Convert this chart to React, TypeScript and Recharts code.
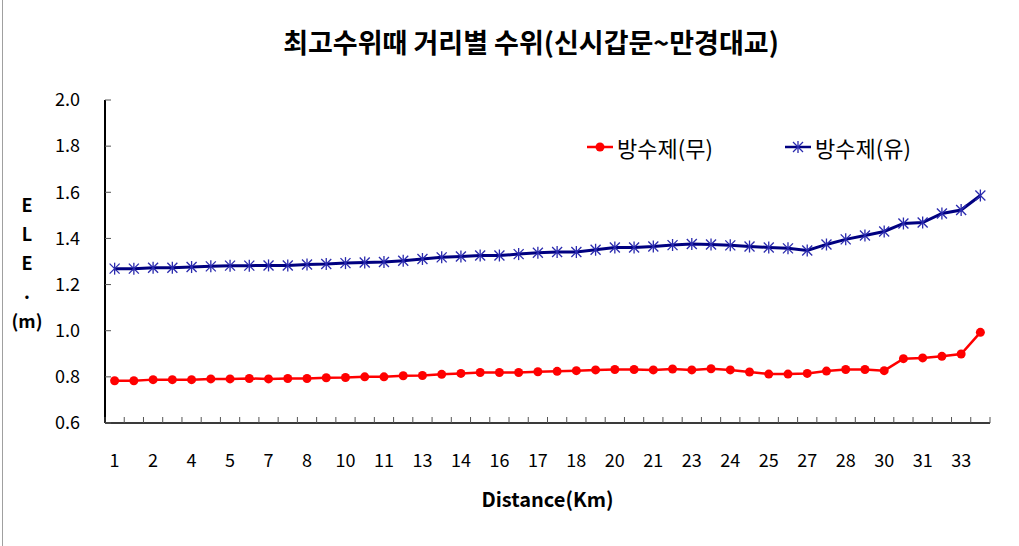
import React from 'react';
import { LineChart, Line, XAxis, YAxis, Legend, Label } from 'recharts';

const distanceLabels = ['1', '2', '4', '5', '7', '8', '10', '11', '13', '14', '16', '17', '18', '20', '21', '23', '24', '25', '27', '28', '30', '31', '33'];

const seriesNames = ['방수제(무)', '방수제(유)'];

const noWaterproof = [
  0.783, 0.783, 0.788, 0.788, 0.788, 0.791, 0.791, 0.793, 0.791, 0.793,
  0.793, 0.796, 0.797, 0.800, 0.800, 0.805, 0.806, 0.811, 0.815, 0.819,
  0.819, 0.819, 0.822, 0.824, 0.827, 0.830, 0.832, 0.832, 0.830, 0.834,
  0.830, 0.835, 0.830, 0.821, 0.812, 0.812, 0.815, 0.825, 0.832, 0.832,
  0.827, 0.879, 0.882, 0.889, 0.899, 0.993,
];

const withWaterproof = [
  1.269, 1.269, 1.273, 1.273, 1.276, 1.279, 1.282, 1.282, 1.283, 1.283,
  1.287, 1.289, 1.293, 1.296, 1.298, 1.303, 1.311, 1.318, 1.322, 1.326,
  1.326, 1.332, 1.338, 1.341, 1.341, 1.351, 1.361, 1.361, 1.365, 1.371,
  1.376, 1.374, 1.370, 1.365, 1.361, 1.357, 1.348, 1.374, 1.396, 1.413,
  1.430, 1.465, 1.469, 1.508, 1.523, 1.586,
];

const yTicks = [0.6, 0.8, 1.0, 1.2, 1.4, 1.6, 1.8, 2.0];

const title = '최고수위때 거리별 수위(신시갑문~만경대교)';
const xTitle = 'Distance(Km)';
const yTitleLines = ['E', 'L', 'E', '.', '(m)'];

const data = noWaterproof.map((v, i) => ({
  idx: i,
  label: i % 2 === 0 ? distanceLabels[i / 2] : '',
  a: v,
  b: withWaterproof[i],
}));

const FONT = '"Noto Sans CJK KR", "Noto Sans", sans-serif';
const RED = '#FF0000';
const NAVY = '#000080';
const STAR = '#2a2aae';

const PLOT_W = 885;
const HALF_BAND = PLOT_W / data.length / 2;

const XTick = (props: any) => {
  const { x, y, index } = props;
  const half = HALF_BAND;
  const lbl = data[index] ? data[index].label : '';
  const last = index === data.length - 1;
  return (
    <g>
      <line x1={x - half} x2={x - half} y1={y} y2={y - 6} stroke="#555" strokeWidth={1} />
      {last && <line x1={x + half} x2={x + half} y1={y} y2={y - 6} stroke="#555" strokeWidth={1} />}
      {lbl !== '' && (
        <text x={x} y={y + 44} textAnchor="middle" fontSize={18} fontFamily={FONT} fill="#000">{lbl}</text>
      )}
    </g>
  );
};

const YTick = (props: any) => {
  const { x, y, payload } = props;
  return (
    <g>
      <line x1={x} x2={x + 6} y1={y} y2={y} stroke="#555" strokeWidth={1} />
      <text x={x - 25} y={y} dy="0.35em" textAnchor="end" fontSize={18} fontFamily={FONT} fill="#000">
        {Number(payload.value).toFixed(1)}
      </text>
    </g>
  );
};

const StarDot = (props: any) => {
  const { cx, cy, stroke } = props;
  if (cx == null || cy == null) return null;
  const s = 5;
  return (
    <g stroke={stroke || STAR} strokeWidth={1.3}>
      <line x1={cx - s} y1={cy - s} x2={cx + s} y2={cy + s} />
      <line x1={cx - s} y1={cy + s} x2={cx + s} y2={cy - s} />
      <line x1={cx} y1={cy - s - 1} x2={cx} y2={cy + s + 1} />
    </g>
  );
};

const YLabel = (props: any) => {
  const vb = props.viewBox || { x: 55, y: 100 };
  const cx = vb.x - 28;
  return (
    <text textAnchor="middle" fontSize={18} fontWeight="bold" fontFamily={FONT} fill="#000">
      {yTitleLines.map((t, i) => (
        <tspan key={i} x={cx} y={vb.y + 112 + i * 29}>{t}</tspan>
      ))}
    </text>
  );
};

const XLabel = (props: any) => {
  const vb = props.viewBox || { x: 105, y: 423, width: 885 };
  return (
    <text x={vb.x + vb.width / 2} y={vb.y + 84} textAnchor="middle" fontSize={20} fontWeight="bold" fontFamily={FONT} fill="#000">
      {xTitle}
    </text>
  );
};

const LegendContent = () => (
  <div style={{ position: 'relative', width: 380, height: 30, fontFamily: FONT, fontSize: 22, color: '#000' }}>
    <div style={{ position: 'absolute', left: 0, top: 0, display: 'flex', alignItems: 'center', height: 30 }}>
      <svg width={30} height={30}>
        <line x1={2} x2={28} y1={15} y2={15} stroke={RED} strokeWidth={2.5} />
        <circle cx={15} cy={15} r={4.5} fill={RED} />
      </svg>
      <span style={{ marginLeft: 2, whiteSpace: 'nowrap' }}>{seriesNames[0]}</span>
    </div>
    <div style={{ position: 'absolute', left: 198, top: 0, display: 'flex', alignItems: 'center', height: 30 }}>
      <svg width={30} height={30}>
        <line x1={2} x2={28} y1={15} y2={15} stroke={NAVY} strokeWidth={2.5} />
        <StarDot cx={15} cy={15} stroke={STAR} />
      </svg>
      <span style={{ marginLeft: 2, whiteSpace: 'nowrap' }}>{seriesNames[1]}</span>
    </div>
  </div>
);

export default function App() {
  return (
    <div style={{ position: 'absolute', left: 0, top: 0, width: 1019, height: 546, background: '#fff', overflow: 'hidden' }}>
      <div style={{ position: 'absolute', left: 2, top: 0, width: 1, height: 546, background: '#a0a0a0' }} />
      <div
        style={{
          position: 'absolute', left: 0, width: 1062, top: 23, textAlign: 'center',
          fontFamily: FONT, fontSize: 27, fontWeight: 'bold', color: '#000', lineHeight: '38px', whiteSpace: 'nowrap',
        }}
      >
        {title}
      </div>
      <LineChart
        width={1019}
        height={546}
        data={data}
        margin={{ top: 100, right: 29, bottom: 83, left: 55 }}
        style={{ position: 'absolute', left: 0, top: 0 }}
      >
        <XAxis
          dataKey="idx"
          type="category"
          interval={0}
          height={40}
          padding={{ left: HALF_BAND, right: HALF_BAND }}
          tickSize={0}
          tickMargin={0}
          tickLine={false}
          tick={<XTick />}
          axisLine={{ stroke: '#3a3a3a', strokeWidth: 2 }}
        >
          <Label content={<XLabel />} />
        </XAxis>
        <XAxis
          xAxisId="top"
          dataKey="idx"
          orientation="top"
          height={0}
          tick={false}
          tickLine={false}
          axisLine={{ stroke: '#000', strokeWidth: 2 }}
        />
        <YAxis
          domain={[0.6, 2.0]}
          ticks={yTicks}
          width={50}
          tickSize={0}
          tickMargin={0}
          tickLine={false}
          tick={<YTick />}
          axisLine={{ stroke: '#000', strokeWidth: 2 }}
          allowDataOverflow
        >
          <Label content={<YLabel />} />
        </YAxis>
        <YAxis
          yAxisId="right"
          orientation="right"
          domain={[0.6, 2.0]}
          width={0}
          tick={false}
          tickLine={false}
          axisLine={{ stroke: '#000', strokeWidth: 3 }}
        />
        <Legend
          layout="vertical"
          align="center"
          verticalAlign="middle"
          content={<LegendContent />}
          wrapperStyle={{ left: 585, top: 132, width: 380, height: 30 }}
        />
        <Line
          type="linear"
          dataKey="a"
          name={seriesNames[0]}
          stroke={RED}
          strokeWidth={2.5}
          dot={{ r: 4.5, fill: RED, stroke: RED, strokeWidth: 0 }}
          activeDot={false}
          isAnimationActive={false}
        />
        <Line
          type="linear"
          dataKey="b"
          name={seriesNames[1]}
          stroke={NAVY}
          strokeWidth={3}
          dot={<StarDot stroke={STAR} />}
          activeDot={false}
          isAnimationActive={false}
        />
      </LineChart>
    </div>
  );
}
